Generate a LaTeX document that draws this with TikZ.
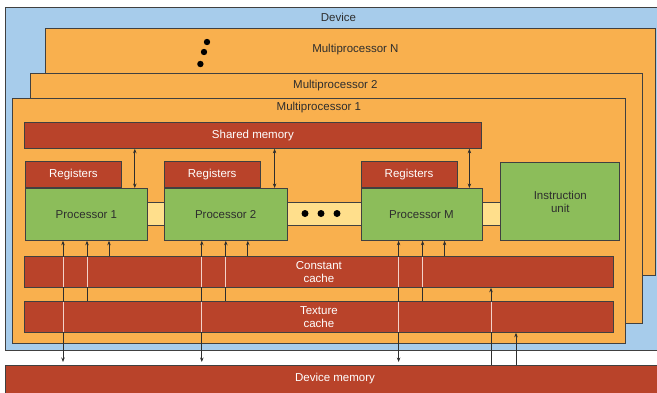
\documentclass[tikz,border=0pt]{standalone}
\usepackage{fontspec}
\setmainfont{Liberation Sans}
\usetikzlibrary{positioning,arrows.meta,calc}

\definecolor{devblue}{HTML}{A7CCEB}
\definecolor{mporange}{HTML}{F9B04E}
\definecolor{memred}{HTML}{B9432A}
\definecolor{procgreen}{HTML}{8CBD5A}
\definecolor{barbuff}{HTML}{FFDF8C}
\definecolor{edge}{HTML}{404040}
\definecolor{textdark}{HTML}{2E2E2E}
\definecolor{wirepink}{HTML}{F4D2C9}

\tikzset{
  box/.style={draw=edge, line width=0.8pt, inner sep=0pt, anchor=north west},
  devbox/.style={box, fill=devblue},
  mpbox/.style={box, fill=mporange},
  redbox/.style={box, fill=memred, text=white, align=center},
  greenbox/.style={box, fill=procgreen, text=textdark, align=center},
  link/.style={draw=textdark, line width=0.7pt},
  wire/.style={draw=wirepink, line width=1pt, shorten <=0.7pt, shorten >=0.7pt}
}

\begin{document}
\begin{tikzpicture}[x=1pt, y=-1pt, font=\fontsize{11.5}{13}\selectfont, text=textdark,
    >={Stealth[length=4.5pt,width=3.5pt]}]
  \clip (0,0) rectangle (657,392);
  \fill[white] (0,0) rectangle (657,392);

  % device and the stacked multiprocessors
  \node[devbox, minimum width=660, minimum height=343] (dev) at (5,7) {};
  \node at ($(dev.north)+(3,10)$) {Device};
  \node[mpbox, minimum width=610, minimum height=247] (mpn) at (45,28) {};
  \node at ($(mpn.north)+(5,22)$) {Multiprocessor N};
  \foreach \y in {42,52,64}
    \fill[black] ({207-(\y-42)*0.3},\y) circle (3.2pt);
  \node[mpbox, minimum width=612, minimum height=250] (mp2) at (30,73) {};
  \node at ($(mp2.north)+(-1,13)$) {Multiprocessor 2};
  \node[mpbox, minimum width=613, minimum height=245] (mp1) at (12,98) {};
  \node at ($(mp1.north)+(0,10)$) {Multiprocessor 1};

  % device memory
  \node[redbox, minimum width=660, minimum height=40] (dmem) at (5,365) {};
  \node[text=white] at (335,379) {Device memory};

  % shared memory
  \node[redbox, minimum width=457, minimum height=26] (shm) at (24,122) {Shared memory};

  % bus between the processors
  \fill[barbuff, draw=edge, line width=0.8pt] (140,202) rectangle (505,225);
  \foreach \x in {305,321,337}
    \fill[black] (\x,213.5) circle (3.5pt);

  % processors with their registers
  \node[greenbox, minimum width=122, minimum height=52] (p1) at (25,188) {Processor 1};
  \node[greenbox, minimum width=123, minimum height=52, right=16pt of p1] (p2) {Processor 2};
  \node[greenbox, minimum width=121, minimum height=52, right=73pt of p2] (pm) {Processor M};
  \foreach \p in {p1,p2,pm}
    \node[redbox, minimum width=96, minimum height=26, anchor=south west] (r\p) at (\p.north west) {Registers};
  \node[greenbox, minimum width=119, minimum height=78, anchor=south west] (iu)
    at ($(pm.south east)+(18,0)$) {Instruction\\unit};

  % caches
  \node[redbox, minimum width=589, minimum height=31] (ccache) at (24,256) {Constant\\cache};
  \node[redbox, minimum width=589, minimum height=31] (tcache) at (24,301) {Texture\\cache};

  % connections of each processor
  \foreach \p in {p1,p2,pm}{
    \path (\p.south west) ++(38,0) coordinate (\p-a) ++(24,0) coordinate (\p-b) ++(22,0) coordinate (\p-c);
    \path (\p.north east) ++(-13,0) coordinate (\p-s);
    \draw[link,<->,shorten >=3pt] (\p-a) -- (\p-a |- dmem.north);
    \draw[link,->] (\p-b |- tcache.north) -- (\p-b);
    \draw[link,->] (\p-c |- ccache.north) -- (\p-c);
    \draw[wire] (\p-a |- ccache.north) -- (\p-a |- ccache.south);
    \draw[wire] (\p-a |- tcache.north) -- (\p-a |- tcache.south);
    \draw[wire] (\p-b |- ccache.north) -- (\p-b |- ccache.south);
    \draw[link,<->] (\p-s) -- (\p-s |- shm.south);
  }

  % device memory feeding the caches
  \coordinate (cx) at ($(ccache.south west)+(467,0)$);
  \coordinate (tx) at ($(tcache.south west)+(492,0)$);
  \draw[link,->] (dmem.north -| cx) -- (cx);
  \draw[wire] (cx |- tcache.north) -- (cx |- tcache.south);
  \draw[link,->] (dmem.north -| tx) -- (tx);
\end{tikzpicture}
\end{document}
